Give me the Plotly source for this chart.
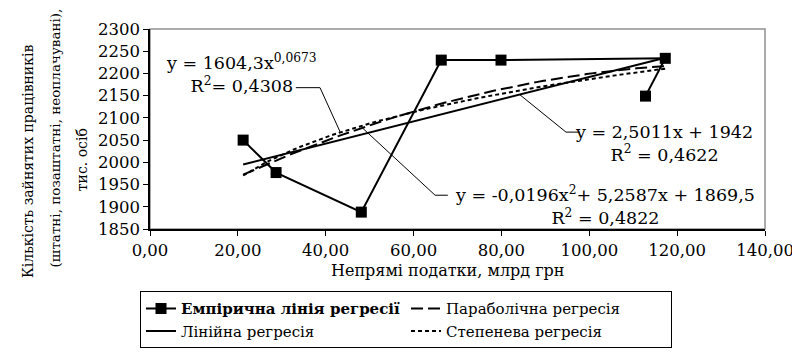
import numpy as np
import plotly.graph_objects as go

x_emp = [21.2, 28.7, 48.1, 66.3, 79.9, 117.3, 112.8]
y_emp = [2050, 1977, 1888, 2230, 2230, 2234, 2149]

# Trend-line coefficients shown on the chart
lin_a, lin_b = 2.5011, 1942.0
par_a, par_b, par_c = -0.0196, 5.2587, 1869.5
pow_a, pow_b = 1604.3, 0.0673

x_ticks = [0, 20, 40, 60, 80, 100, 120, 140]
y_ticks = [1850, 1900, 1950, 2000, 2050, 2100, 2150, 2200, 2250, 2300]

names = ["<b>Емпірична лінія регресії</b>", "Параболічна регресія",
         "Лінійна регресія", "Степенева регресія"]

xt = np.linspace(min(x_emp), max(x_emp), 60)
y_lin = lin_a * xt + lin_b
y_par = par_a * xt ** 2 + par_b * xt + par_c
y_pow = pow_a * xt ** pow_b

FONT = "DejaVu Serif"

fig = go.Figure()
fig.add_trace(go.Scatter(x=x_emp, y=y_emp, mode="lines+markers", name=names[0],
                         line=dict(color="black", width=2),
                         marker=dict(symbol="square", size=11, color="black")))
fig.add_trace(go.Scatter(x=xt, y=y_par, mode="lines", name=names[1],
                         line=dict(color="black", width=2, dash="12px,5px")))
fig.add_trace(go.Scatter(x=xt, y=y_lin, mode="lines", name=names[2],
                         line=dict(color="black", width=2)))
fig.add_trace(go.Scatter(x=xt, y=y_pow, mode="lines", name=names[3],
                         line=dict(color="black", width=2, dash="4px,3px")))

ann_font = dict(family=FONT, size=17.5, color="black")
annotations = [
    dict(x=20.9, y=2200, text="y = 1604,3x<sup>0,0673</sup><br>R<sup>2</sup>= 0,4308"),
    dict(x=117.0, y=2043, text="y = 2,5011x + 1942<br>R<sup>2</sup> = 0,4622"),
    dict(x=103.6, y=1903, text="y = -0,0196x<sup>2</sup>+ 5,2587x + 1869,5<br>R<sup>2</sup> = 0,4822"),
]
annotations = [dict(a, xref="x", yref="y", showarrow=False, xanchor="center",
                    yanchor="middle", align="center", font=ann_font) for a in annotations]

# y-axis title as three separate lines
ytitle = ["Кількість зайнятих працівників", "(штатні, позаштатні, неоплачувані),", "тис. осіб"]
ypos_px = [(20, 156), (47, 132), (74, 155)]
ysizes = [14, 13.5, 14]
for t, (px, py), fs in zip(ytitle, ypos_px, ysizes):
    annotations.append(dict(text=t, xref="paper", yref="paper",
                            x=(px - 142) / 615, y=(228 - py) / 212,
                            textangle=-90, showarrow=False, xanchor="center", yanchor="middle",
                            font=dict(family=FONT, size=fs, color="black")))
annotations.append(dict(text="Непрямі податки, млрд грн", xref="paper", yref="paper",
                        x=(440 - 142) / 615, y=(228 - 272) / 212, showarrow=False,
                        xanchor="center", yanchor="middle",
                        font=dict(family=FONT, size=16, color="black")))

shapes = [
    dict(type="rect", xref="paper", yref="paper", x0=0, y0=0, x1=1, y1=1,
         line=dict(color="#909090", width=1.5), layer="below"),
    dict(type="path", xref="x", yref="y", path="M 33.2,2168 L 38.7,2168 L 43.3,2068",
         line=dict(color="black", width=1)),
    dict(type="path", xref="x", yref="y", path="M 84.2,2152 L 94.7,2068 L 97.9,2068",
         line=dict(color="black", width=1)),
    dict(type="path", xref="x", yref="y", path="M 48.5,2076 L 64.9,1926 L 67.8,1926",
         line=dict(color="black", width=1)),
]

fig.update_layout(
    width=800, height=352,
    margin=dict(l=142, r=43, t=16, b=124),
    paper_bgcolor="white", plot_bgcolor="white",
    separators=", ",
    font=dict(family=FONT, size=16, color="black"),
    showlegend=True,
    legend=dict(orientation="h", x=(132 - 142) / 615, y=(228 - 294) / 212,
                xanchor="left", yanchor="top",
                bordercolor="black", borderwidth=1,
                entrywidth=220, entrywidthmode="pixels",
                font=dict(family=FONT, size=15, color="black"),
                tracegroupgap=0, itemwidth=30),
    annotations=annotations,
    shapes=shapes,
    xaxis=dict(range=[0, 140], tickvals=x_ticks, tickformat=".2f",
               showline=True, linecolor="black", linewidth=1.5,
               ticks="outside", ticklen=5, tickcolor="black",
               showgrid=False, zeroline=False, fixedrange=True,
               tickfont=dict(family=FONT, size=16.5)),
    yaxis=dict(range=[1850, 2300], tickvals=y_ticks, tickformat="d",
               showline=True, linecolor="black", linewidth=1.5,
               ticks="outside", ticklen=5, tickcolor="black",
               showgrid=False, zeroline=False, fixedrange=True,
               tickfont=dict(family=FONT, size=16.5)),
)

fig.write_html("out.html")
